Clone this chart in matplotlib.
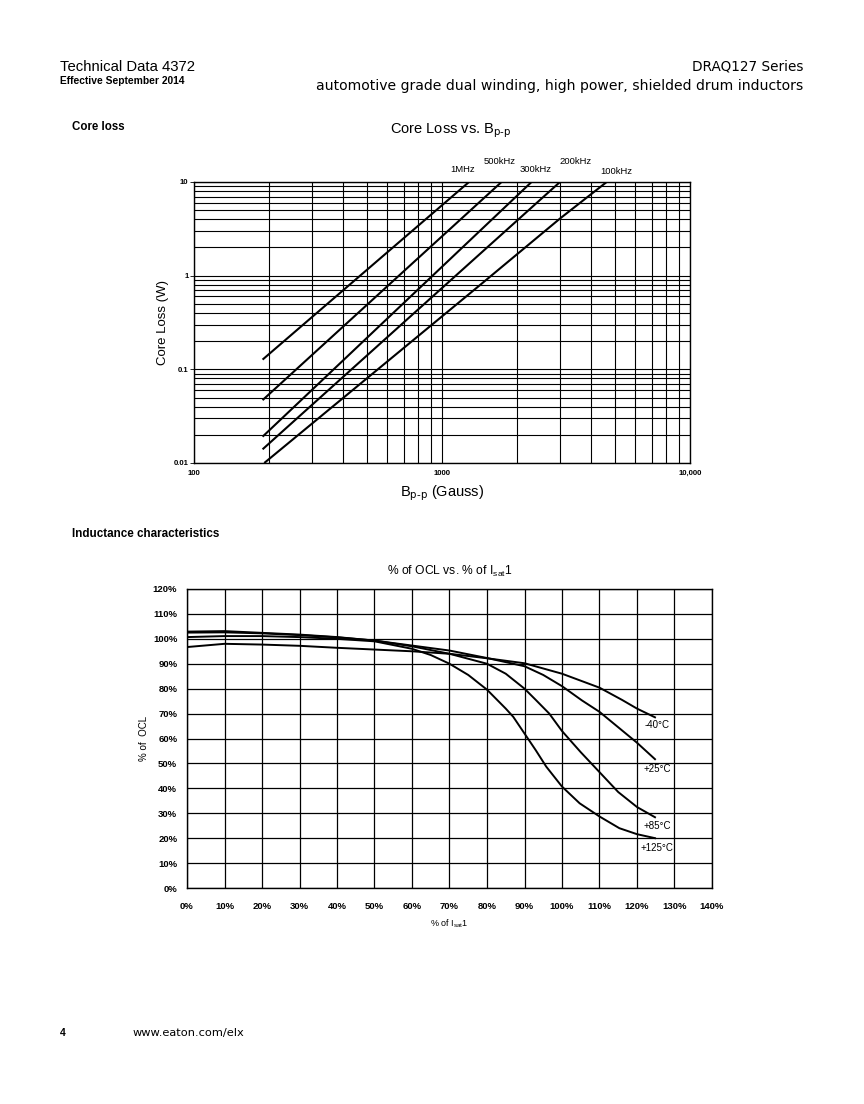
import matplotlib
matplotlib.use("Agg")
import matplotlib.pyplot as plt
import numpy as np
from matplotlib.ticker import FixedLocator, NullFormatter, FixedFormatter

plt.rcParams['font.family'] = ['Liberation Sans', 'DejaVu Sans']

# ---------------- Core loss data ----------------
freq_labels = ["1MHz", "500kHz", "300kHz", "200kHz", "100kHz"]
b_1mhz = [189, 1285]
loss_1mhz = [0.127, 10.0]
b_500k = [189, 1738]
loss_500k = [0.0469, 10.0]
b_300k = [189, 2296]
loss_300k = [0.0191, 10.0]
b_200k = [189, 2990]
loss_200k = [0.0140, 10.0]
b_100k = [192, 1420, 3000, 4614]
loss_100k = [0.010, 0.79, 4.1, 10.0]

core_x_ticks = [100, 1000, 10000]
core_x_ticklabels = ["100", "1000", "10,000"]
core_y_ticks = [0.01, 0.1, 1, 10]
core_y_ticklabels = ["0.01", "0.1", "1", "10"]

# ---------------- OCL data ----------------
temp_labels = ["-40°C", "+25°C", "+85°C", "+125°C"]
isat_m40 = [0, 10, 20, 30, 40, 50, 60, 70, 80, 90, 100, 110, 116, 120, 124.8]
ocl_m40 = [96.7, 98.0, 97.7, 97.2, 96.4, 95.7, 95.0, 94.0, 92.2, 90.2, 86.0, 80.4, 75.5, 72.0, 68.5]
isat_p25 = [0, 10, 20, 30, 40, 50, 60, 70, 80, 90, 95, 100, 105.3, 110, 115, 120, 124.8]
ocl_p25 = [102.5, 102.6, 102.2, 101.5, 100.6, 99.3, 97.3, 95.3, 92.3, 89.0, 85.5, 81.0, 75.3, 70.7, 64.5, 58.3, 51.7]
isat_p85 = [0, 10, 20, 30, 40, 50, 60, 70, 80, 85, 90, 93, 96.6, 100, 105, 110, 115, 120, 124.8]
ocl_p85 = [102.9, 103.1, 102.4, 101.7, 100.7, 99.3, 97.0, 94.0, 90.0, 86.0, 80.0, 75.5, 70.0, 63.0, 54.5, 46.5, 38.5, 32.5, 28.4]
isat_p125 = [0, 10, 20, 30, 40, 50, 60, 65, 70, 75, 80, 85, 87, 90, 93, 95.8, 100, 104.7, 110, 115.3, 120, 124.8]
ocl_p125 = [100.7, 101.1, 101.1, 100.7, 100.0, 99.0, 96.0, 93.5, 90.0, 85.5, 79.6, 72.0, 68.7, 62.0, 55.3, 48.7, 40.7, 34.0, 28.7, 24.0, 21.6, 20.0]

ocl_x_ticks = list(range(0, 141, 10))
ocl_y_ticks = list(range(0, 121, 10))

W, H = 864, 1104
fig = plt.figure(figsize=(W / 100, H / 100), dpi=100)


def fx(px):
    return px / W


def fy(py):
    return 1 - py / H


# ---------------- Page text ----------------
fig.text(fx(60), fy(67), "Technical Data 4372", fontsize=10.7, ha="left", va="center")
fig.text(fx(60), fy(81), "Effective September 2014", fontsize=7.4, ha="left", va="center", fontweight="bold")
fig.text(fx(803), fy(67), "DRAQ127 Series", fontsize=9.8, ha="right", va="center", family=["DejaVu Sans"])
fig.text(fx(803), fy(86), "automotive grade dual winding, high power, shielded drum inductors",
         fontsize=10.05, ha="right", va="center", family=["DejaVu Sans"])
fig.text(fx(72), fy(127), "Core loss", fontsize=8.3, ha="left", va="center", fontweight="bold")
fig.text(fx(72), fy(534), "Inductance characteristics", fontsize=8.4, ha="left", va="center", fontweight="bold")
fig.text(fx(60), fy(1033), "4", fontsize=7.5, ha="left", va="center", fontweight="bold")
fig.text(fx(133), fy(1033), "www.eaton.com/elx", fontsize=8.2, ha="left", va="center", family=["DejaVu Sans"])

# ---------------- Core loss chart ----------------
ax1 = fig.add_axes([fx(194), fy(463), fx(690 - 194), (463 - 182) / H])
ax1.set_xscale("log")
ax1.set_yscale("log")
ax1.set_xlim(100, 10000)
ax1.set_ylim(0.01, 10)

core_series = [(b_1mhz, loss_1mhz), (b_500k, loss_500k), (b_300k, loss_300k),
               (b_200k, loss_200k), (b_100k, loss_100k)]
label_offsets = [(-6, 12), (-2, 21), (4, 12), (16, 21), (10, 10)]
for (bx, ly), lab, off in zip(core_series, freq_labels, label_offsets):
    ax1.plot(bx, ly, color="black", lw=1.5, solid_capstyle="butt")
    ax1.annotate(lab, xy=(bx[-1], ly[-1]), xytext=(off[0] * 0.72, off[1] * 0.72),
                 textcoords="offset points", ha="center", va="center", fontsize=6.8)

ax1.xaxis.set_major_locator(FixedLocator(core_x_ticks))
ax1.xaxis.set_major_formatter(FixedFormatter(core_x_ticklabels))
ax1.xaxis.set_minor_locator(FixedLocator([m * 10 ** d for d in (2, 3) for m in range(2, 10)]))
ax1.xaxis.set_minor_formatter(NullFormatter())
ax1.yaxis.set_major_locator(FixedLocator(core_y_ticks))
ax1.yaxis.set_major_formatter(FixedFormatter(core_y_ticklabels))
ax1.yaxis.set_minor_locator(FixedLocator([m * 10.0 ** d for d in (-2, -1, 0) for m in range(2, 10)]))
ax1.yaxis.set_minor_formatter(NullFormatter())
ax1.grid(True, which="both", color="black", lw=0.8)
ax1.set_axisbelow(True)
ax1.tick_params(axis="both", which="minor", length=0)
ax1.tick_params(axis="y", which="major", length=3, width=0.6, labelsize=5.6, pad=1)
ax1.tick_params(axis="x", which="major", length=0, labelsize=5.6, pad=5)
for lbl in ax1.get_xticklabels() + ax1.get_yticklabels():
    lbl.set_fontweight("bold")
for sp in ax1.spines.values():
    sp.set_linewidth(1.0)
fig.text(fx(451), fy(131), r"Core Loss vs. B$_{\text{p-p}}$", fontsize=10.5, ha="center", va="center")
ax1.set_ylabel("Core Loss (W)", fontsize=9.5, labelpad=3)
ax1.set_xlabel(r"B$_{\text{p-p}}$ (Gauss)", fontsize=10.5, labelpad=5)

# ---------------- OCL chart ----------------
ax2 = fig.add_axes([fx(187), fy(888), fx(712 - 187), (888 - 589) / H])
ax2.set_xlim(0, 140)
ax2.set_ylim(0, 120)
ocl_series = [(isat_m40, ocl_m40), (isat_p25, ocl_p25), (isat_p85, ocl_p85), (isat_p125, ocl_p125)]
label_dy = [-8, -10, -9, -10]
for (ix, oy), lab, dy in zip(ocl_series, temp_labels, label_dy):
    ax2.plot(ix, oy, color="black", lw=1.4)
    ax2.annotate(lab, xy=(ix[-1], oy[-1]), xytext=(2 * 0.72, dy * 0.72),
                 textcoords="offset points", ha="center", va="center", fontsize=7)

ax2.xaxis.set_major_locator(FixedLocator(ocl_x_ticks))
ax2.xaxis.set_major_formatter(FixedFormatter([f"{v}%" for v in ocl_x_ticks]))
ax2.yaxis.set_major_locator(FixedLocator(ocl_y_ticks))
ax2.yaxis.set_major_formatter(FixedFormatter([f"{v}%" for v in ocl_y_ticks]))
ax2.grid(True, color="black", lw=0.9)
ax2.set_axisbelow(True)
ax2.tick_params(axis="both", length=0, labelsize=6.8)
ax2.tick_params(axis="x", pad=10)
ax2.tick_params(axis="y", pad=7)
for lbl in ax2.get_xticklabels() + ax2.get_yticklabels():
    lbl.set_fontweight("bold")
for sp in ax2.spines.values():
    sp.set_linewidth(1.0)
ax2.set_title(r"% of OCL vs. % of I$_{\mathregular{sat}}$1", fontsize=8.7, pad=10)
ax2.set_ylabel("% of  OCL", fontsize=7, labelpad=3)
ax2.set_xlabel(r"% of I$_{\mathregular{sat}}$1", fontsize=6.5, labelpad=5)

fig.savefig("out.png", dpi=100)
